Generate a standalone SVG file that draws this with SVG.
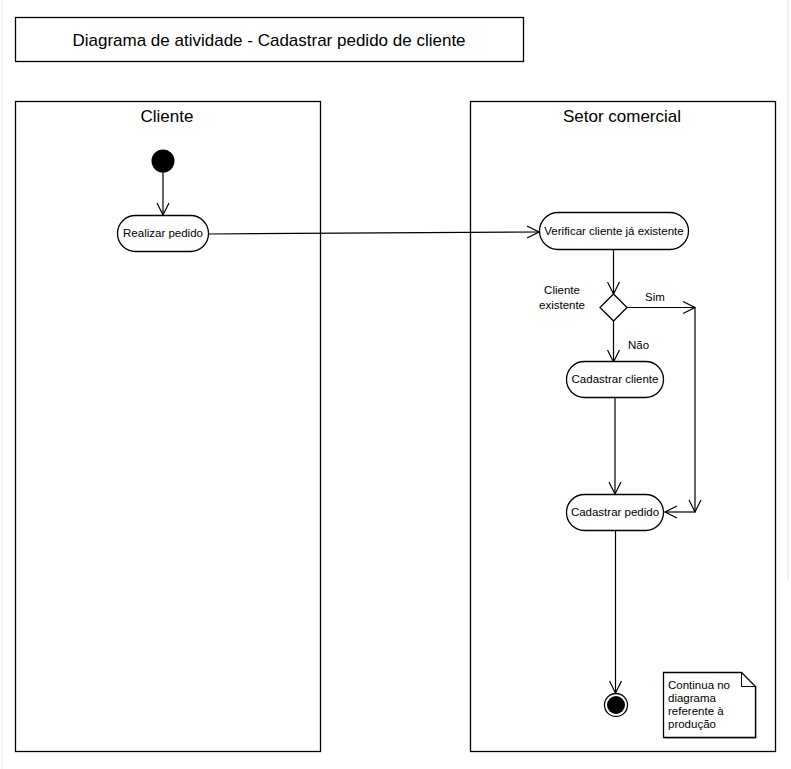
<svg xmlns="http://www.w3.org/2000/svg" width="791" height="769" viewBox="0 0 791 769">
<style>
text{font-family:"Liberation Sans",Arial,sans-serif;fill:#000}
.big{font-size:17px;text-anchor:middle}
.sm{font-size:11.5px}
.c{text-anchor:middle}
.box{fill:#fff;stroke:#000;stroke-width:1.3}
.ln{fill:none;stroke:#000;stroke-width:1.2}
</style>
<defs>
<marker id="ar" viewBox="0 0 14 14" refX="13" refY="7" markerWidth="14" markerHeight="14" markerUnits="userSpaceOnUse" orient="auto">
<path d="M1,1 L13,7 L1,13" fill="none" stroke="#000" stroke-width="1.2"/>
</marker>
</defs>
<rect width="791" height="769" fill="#fff"/>
<line x1="2" y1="0" x2="2" y2="769" stroke="#ececec" stroke-width="1.5"/>
<line x1="788" y1="0" x2="788" y2="580" stroke="#ececec" stroke-width="1.5"/>
<g id="title">
<rect class="box" x="15.5" y="17.5" width="508" height="44"/>
<text x="269" y="46" style="font-size:17px;text-anchor:middle">Diagrama de atividade - Cadastrar pedido de cliente</text>
</g>
<g id="lane-cliente">
<rect class="box" x="15.5" y="101.5" width="305" height="650"/>
<text class="big" x="167" y="122">Cliente</text>
</g>
<g id="lane-setor">
<rect class="box" x="470.5" y="101.5" width="305" height="650"/>
<text class="big" x="622" y="122">Setor comercial</text>
</g>
<g id="connectors">
<line class="ln" x1="163" y1="172" x2="163" y2="215" marker-end="url(#ar)"/>
<line class="ln" x1="208" y1="234" x2="539" y2="232" marker-end="url(#ar)"/>
<line class="ln" x1="613.5" y1="250" x2="613.5" y2="294" marker-end="url(#ar)"/>
<line class="ln" x1="627" y1="307.5" x2="695" y2="307.5" marker-end="url(#ar)"/>
<line class="ln" x1="695" y1="307.5" x2="695" y2="512" marker-end="url(#ar)"/>
<line class="ln" x1="695" y1="512" x2="665" y2="512" marker-end="url(#ar)"/>
<line class="ln" x1="613.5" y1="321" x2="613.5" y2="362" marker-end="url(#ar)"/>
<line class="ln" x1="615" y1="397" x2="615" y2="494" marker-end="url(#ar)"/>
<line class="ln" x1="615.5" y1="530" x2="615.5" y2="693" marker-end="url(#ar)"/>
<text class="sm c" x="655" y="301">Sim</text>
<text class="sm" x="628" y="349">Não</text>
<text class="sm c" x="562" y="294">Cliente</text>
<text class="sm c" x="562" y="309">existente</text>
</g>
<g id="start">
<circle cx="163" cy="161" r="11.5" fill="#000"/>
</g>
<g id="realizar-pedido">
<rect class="box" x="117.5" y="215.5" width="91" height="36" rx="18"/>
<text class="sm c" x="163" y="237">Realizar pedido</text>
</g>
<g id="verificar-cliente">
<rect class="box" x="539.5" y="212.5" width="149" height="37" rx="18.5"/>
<text class="sm c" x="614" y="235">Verificar cliente já existente</text>
</g>
<g id="decisao">
<path class="box" d="M613.5,294 L627,307.5 L613.5,321 L600,307.5 Z"/>
</g>
<g id="cadastrar-cliente">
<rect class="box" x="566.5" y="361.5" width="97" height="36" rx="18"/>
<text class="sm c" x="615" y="383">Cadastrar cliente</text>
</g>
<g id="cadastrar-pedido">
<rect class="box" x="566.5" y="494.5" width="97" height="36" rx="18"/>
<text class="sm c" x="615" y="516">Cadastrar pedido</text>
</g>
<g id="end">
<circle cx="616" cy="705" r="11.5" fill="#fff" stroke="#000" stroke-width="1.3"/>
<circle cx="616" cy="705" r="9" fill="#000"/>
</g>
<g id="note">
<path d="M665,738 L756,738 L756,686" fill="none" stroke="#bbb" stroke-width="1.5"/>
<path class="box" d="M663.5,672.5 L741.5,672.5 L755.5,686.5 L755.5,737.5 L663.5,737.5 Z"/>
<path d="M741.5,672.5 L741.5,686.5 L755.5,686.5" fill="none" stroke="#000" stroke-width="1"/>
<text class="sm" x="668" y="689">Continua no</text>
<text class="sm" x="668" y="702">diagrama</text>
<text class="sm" x="668" y="715">referente à</text>
<text class="sm" x="668" y="728">produção</text>
</g>
</svg>
